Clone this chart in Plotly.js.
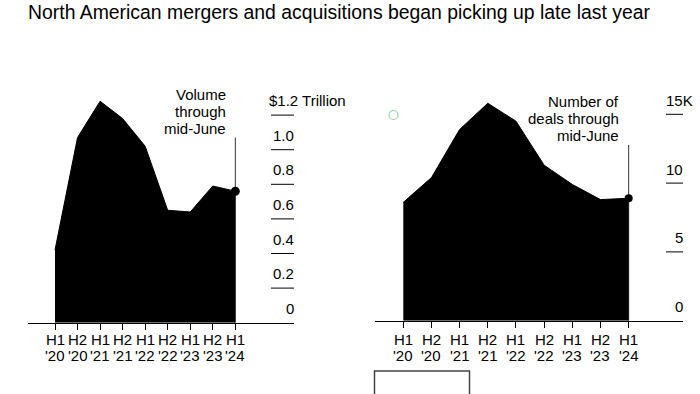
<!DOCTYPE html>
<html>
<head>
<meta charset="utf-8">
<script src="https://cdn.plot.ly/plotly-3.0.1.min.js"></script>
<style>html,body{margin:0;padding:0;background:#fff;}#chart{width:700px;height:394px;}</style>
</head>
<body>
<div id="chart"></div>
<script>
// ---- data ----
const halfLabels = ['H1','H2','H1','H2','H1','H2','H1','H2','H1'];
const yearLabels = ["'20","'20","'21","'21","'22","'22","'23","'23","'24"];
const volume = [0.42, 1.07, 1.28, 1.18, 1.02, 0.65, 0.64, 0.79, 0.76];   // $ trillion
const deals  = [8.6, 10.4, 13.9, 15.8, 14.5, 11.3, 9.9, 8.8, 8.9];      // thousands
const volTicks = [0, 0.2, 0.4, 0.6, 0.8, 1.0, 1.2];
const volTickText = ['0','0.2','0.4','0.6','0.8','1.0','$1.2 Trillion'];
const dealTicks = [0, 5, 10, 15];
const dealTickText = ['0','5','10','15K'];
const volNote = ['Volume','through','mid-June'];
const dealNote = ['Number of','deals through','mid-June'];
const title = 'North American mergers and acquisitions began picking up late last year';

// ---- layout helpers ----
const W = 700, H = 394;
const px = v => v / W;
const py = v => (H - v) / H;
const FONT = 'Liberation Sans, Arial, sans-serif';
const idx = volume.map((_, i) => i);
const last = idx.length - 1;

const traces = [
  {x: idx, y: volume, xaxis: 'x', yaxis: 'y', type: 'scatter', mode: 'lines',
   fill: 'tozeroy', fillcolor: '#000', line: {color: '#000', width: 1}, hoverinfo: 'skip'},
  {x: [idx[last]], y: [volume[last]], xaxis: 'x', yaxis: 'y', type: 'scatter', mode: 'markers',
   marker: {color: '#000', size: 9}, hoverinfo: 'skip'},
  {x: idx, y: deals, xaxis: 'x2', yaxis: 'y2', type: 'scatter', mode: 'lines',
   fill: 'tozeroy', fillcolor: '#000', line: {color: '#000', width: 1}, hoverinfo: 'skip'},
  {x: [idx[last]], y: [deals[last]], xaxis: 'x2', yaxis: 'y2', type: 'scatter', mode: 'markers',
   marker: {color: '#000', size: 8}, hoverinfo: 'skip'}
];

// axis geometry (pixels)
const L = {x0: 28, x1: 294, tick0: 55, step: 22.54, base: 322.7, unit: 173};      // per 1.0
const R = {x0: 375, x1: 683, tick0: 403.3, step: 28.17, base: 320.7, unit: 13.76}; // per 1K

function xaxisFor(g, anchor) {
  return {
    domain: [px(g.x0), px(g.x1)],
    range: [(g.x0 - g.tick0) / g.step, (g.x1 - g.tick0) / g.step],
    anchor: anchor, showgrid: false, zeroline: false,
    showline: true, linecolor: '#000', linewidth: 1,
    ticks: 'outside', ticklen: 6, tickcolor: '#000', tickwidth: 1,
    tickvals: idx, showticklabels: false, fixedrange: true
  };
}
function yaxisFor(g, anchor) {
  return {
    domain: [py(g.base), 1],
    range: [0, g.base / g.unit],
    anchor: anchor, showgrid: false, zeroline: false, showline: false,
    showticklabels: false, ticks: '', fixedrange: true
  };
}

const annotations = [];
const shapes = [];

// x tick labels
idx.forEach(i => {
  ['x', 'x2'].forEach(xr => {
    annotations.push({xref: xr, yref: 'paper', x: i, y: py(339), text: halfLabels[i], showarrow: false,
      xanchor: 'center', yanchor: 'middle', font: {family: FONT, size: 15, color: '#000'}, borderpad: 0});
    annotations.push({xref: xr, yref: 'paper', x: i, y: py(355), text: yearLabels[i], showarrow: false,
      xanchor: 'center', yanchor: 'middle', font: {family: FONT, size: 15, color: '#000'}, borderpad: 0});
  });
});

// y tick labels + short rules
volTicks.forEach((v, k) => {
  const isTop = k === volTicks.length - 1;
  annotations.push({xref: 'paper', yref: 'y', x: isTop ? px(268) : px(295), y: v, yshift: 14.5,
    text: volTickText[k], showarrow: false, xanchor: isTop ? 'left' : 'right', yanchor: 'middle',
    font: {family: FONT, size: 15, color: '#000'}, borderpad: 0});
  if (v !== 0) shapes.push({type: 'line', xref: 'paper', yref: 'y', x0: px(271), x1: px(294), y0: v, y1: v,
    line: {color: '#000', width: 1}});
});
dealTicks.forEach((v, k) => {
  const isTop = k === dealTicks.length - 1;
  annotations.push({xref: 'paper', yref: 'y2', x: isTop ? px(665) : px(684), y: v, yshift: 14,
    text: dealTickText[k], showarrow: false, xanchor: isTop ? 'left' : 'right', yanchor: 'middle',
    font: {family: FONT, size: 15, color: '#000'}, borderpad: 0});
  if (v !== 0) shapes.push({type: 'line', xref: 'paper', yref: 'y2', x0: px(666), x1: px(683), y0: v, y1: v,
    line: {color: '#000', width: 1}});
});

// notes
const volNoteY = [94, 111.5, 128.5];
volNote.forEach((t, k) => annotations.push({xref: 'paper', yref: 'paper', x: px(227), y: py(volNoteY[k]),
  text: t, showarrow: false, xanchor: 'right', yanchor: 'middle', borderpad: 0,
  font: {family: FONT, size: 15, color: '#000'}}));
const dealNoteY = [101.5, 118.5, 135];
dealNote.forEach((t, k) => annotations.push({xref: 'paper', yref: 'paper', x: px(620), y: py(dealNoteY[k]),
  text: t, showarrow: false, xanchor: 'right', yanchor: 'middle', borderpad: 0,
  font: {family: FONT, size: 15, color: '#000'}}));

// leader lines
shapes.push({type: 'line', xref: 'x', yref: 'paper', x0: last, x1: last, y0: py(L.base), y1: py(137.5),
  line: {color: '#333', width: 1}, layer: 'below'});
shapes.push({type: 'line', xref: 'x2', yref: 'paper', x0: last, x1: last, y0: py(R.base), y1: py(145),
  line: {color: '#333', width: 1}, layer: 'below'});

// decorative: green circle and bracket
shapes.push({type: 'circle', xref: 'paper', yref: 'paper', x0: px(389), x1: px(398), y0: py(119.5), y1: py(110.5),
  line: {color: '#93d4a4', width: 1.2}});
shapes.push({type: 'path', xref: 'paper', yref: 'paper',
  path: `M ${px(374.5)} ${py(394)} L ${px(374.5)} ${py(371)} L ${px(469.5)} ${py(371)} L ${px(469.5)} ${py(394)}`,
  line: {color: '#444', width: 1.5}});

const layout = {
  width: W, height: H,
  margin: {l: 0, r: 0, t: 0, b: 0},
  paper_bgcolor: '#fff', plot_bgcolor: 'rgba(0,0,0,0)',
  showlegend: false,
  title: {text: title, x: px(28), xanchor: 'left', y: 1 - 12 / H, yanchor: 'middle',
    font: {family: FONT, size: 19.4, color: '#000'}},
  xaxis: xaxisFor(L, 'y'),
  yaxis: yaxisFor(L, 'x'),
  xaxis2: xaxisFor(R, 'y2'),
  yaxis2: yaxisFor(R, 'x2'),
  annotations: annotations,
  shapes: shapes
};

Plotly.newPlot('chart', traces, layout, {staticPlot: true, displayModeBar: false});
</script>
</body>
</html>
